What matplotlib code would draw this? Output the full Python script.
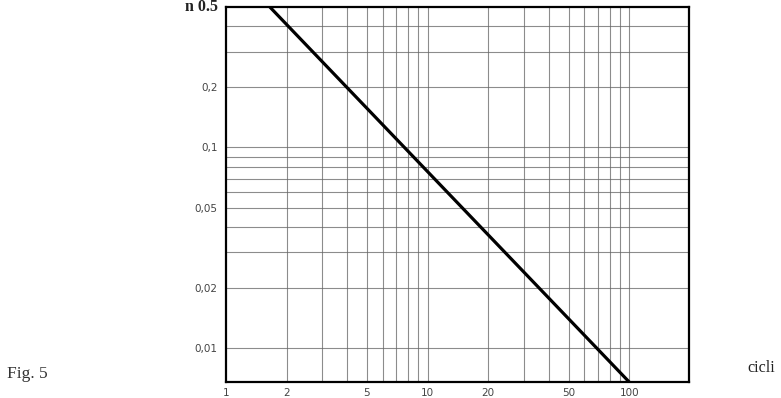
import matplotlib
matplotlib.use("Agg")
import matplotlib.pyplot as plt
from matplotlib.ticker import NullLocator

# Data
cycles = [1.65, 100]
n_values = [0.5, 0.0068]

x_tick_values = [1, 2, 5, 10, 20, 50, 100]
x_tick_labels = ["1", "2", "5", "10", "20", "50", "100"]
y_tick_values = [0.01, 0.02, 0.05, 0.1, 0.2]
y_tick_labels = ["0,01", "0,02", "0,05", "0,1", "0,2"]

x_grid = [2, 3, 4, 5, 6, 7, 8, 9, 10, 20, 30, 40, 50, 60, 70, 80, 90, 100]
y_grid = [0.01, 0.02, 0.03, 0.04, 0.05, 0.06, 0.07, 0.08, 0.09, 0.1, 0.2, 0.3, 0.4]

fig = plt.figure(figsize=(7.81, 3.98), dpi=100)
ax = fig.add_axes([226/781, 1 - 382/398, (689 - 226)/781, (382 - 7)/398])
ax.set_xscale("log")
ax.set_yscale("log")
ax.set_xlim(1, 198)
ax.set_ylim(0.0068, 0.5)

for gx in x_grid:
    ax.axvline(gx, color="#666666", lw=0.8, alpha=0.75, zorder=1)
for gy in y_grid:
    ax.axhline(gy, color="#666666", lw=0.8, alpha=0.75, zorder=1)

ax.plot(cycles, n_values, color="black", lw=2.3, solid_capstyle="butt", zorder=3)

ax.xaxis.set_minor_locator(NullLocator())
ax.yaxis.set_minor_locator(NullLocator())
ax.set_xticks(x_tick_values)
ax.set_xticklabels(x_tick_labels)
ax.set_yticks(y_tick_values)
ax.set_yticklabels(y_tick_labels)
ax.tick_params(axis="both", length=0, labelsize=7.5, labelcolor="#444444")
ax.tick_params(axis="x", pad=4)
ax.tick_params(axis="y", pad=6)

for side in ["left", "right", "top", "bottom"]:
    ax.spines[side].set_linewidth(1.6)
    ax.spines[side].set_color("black")

fig.text(218/781, 1 - 7/398, "n 0.5", ha="right", va="center",
         family="Liberation Serif", fontsize=11.5, fontweight="bold", color="#222222")
fig.text(7/781, 1 - 374/398, "Fig. 5", ha="left", va="center",
         family="Liberation Serif", fontsize=12.5, color="#333333")
fig.text(747/781, 1 - 368/398, "cicli", ha="left", va="center",
         family="Liberation Serif", fontsize=11.5, color="#222222")

fig.savefig("out.png", dpi=100)
